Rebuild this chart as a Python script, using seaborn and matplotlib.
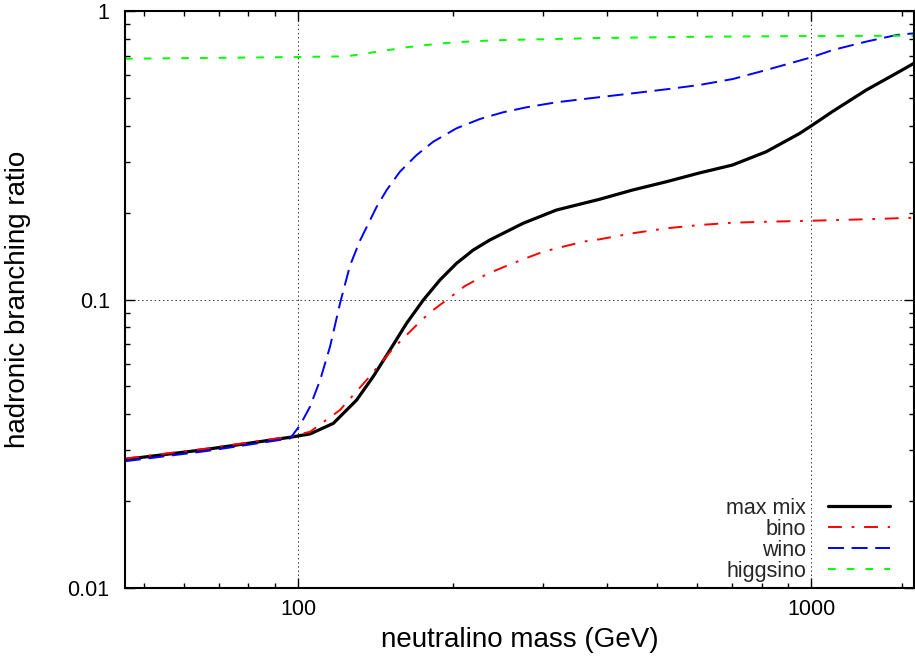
import matplotlib
matplotlib.use("Agg")
import matplotlib.pyplot as plt
import seaborn as sns
import pandas as pd
from matplotlib.ticker import FixedLocator, NullFormatter

# ---- data ----
mass_maxmix = [46, 66, 96.5, 105.5, 117.1, 130, 140, 151, 162.7, 175.4, 189, 203.6,
               219.4, 236.4, 274.4, 318.6, 387, 448, 522, 605, 702, 817, 948,
               1000, 1099, 1279, 1483, 1585]
br_maxmix = [0.0279, 0.0302, 0.0333, 0.0342, 0.0372, 0.0448, 0.0540, 0.0668, 0.0827,
             0.0996, 0.1169, 0.1335, 0.1484, 0.1608, 0.1837, 0.2042, 0.2226,
             0.2395, 0.256, 0.2745, 0.2925, 0.3253, 0.376, 0.400, 0.448, 0.532,
             0.616, 0.659]

mass_bino = [46, 66, 96.5, 105.5, 120.7, 136, 153.2, 174.1, 183.4, 200.5, 211.3, 232.9,
             250.8, 274.4, 300.1, 328.2, 358.9, 387, 449, 522, 605, 703, 817, 1000,
             1277, 1586]
br_bino = [0.0281, 0.0304, 0.0335, 0.0348, 0.0414, 0.0526, 0.0677, 0.0849, 0.0920,
           0.1036, 0.1113, 0.1223, 0.1293, 0.1378, 0.1464, 0.1524, 0.1586, 0.1617,
           0.1697, 0.1765, 0.1812, 0.1846, 0.1860, 0.1875, 0.1897, 0.1921]

mass_wino = [46, 66, 96.5, 100.9, 105.5, 110.4, 115.4, 120.7, 126.2, 132, 142.3, 148.8,
             157.9, 170.2, 183.4, 203.6, 226, 250.8, 278.6, 318.6, 369.9, 449, 522,
             605, 703, 817, 1000, 1101, 1277, 1465, 1586]
br_wino = [0.0275, 0.0298, 0.0330, 0.0367, 0.0425, 0.0526, 0.0686, 0.0970, 0.1310,
           0.1600, 0.2098, 0.2396, 0.2773, 0.3168, 0.3524, 0.3922, 0.4222, 0.4455,
           0.4637, 0.4826, 0.4981, 0.5185, 0.5354, 0.5541, 0.5810, 0.6245, 0.6911,
           0.7324, 0.7826, 0.8257, 0.8369]

mass_higgsino = [46, 64.5, 100, 124.4, 136, 148.8, 162.7, 178, 194.7, 212.9, 239.9,
                 387, 605, 1000, 1586]
br_higgsino = [0.6833, 0.6871, 0.6927, 0.6966, 0.7134, 0.7307, 0.7484, 0.7623, 0.7746,
               0.7827, 0.7914, 0.806, 0.8143, 0.819, 0.821]

series_names = ["max mix", "bino", "wino", "higgsino"]
x_ticks = [100, 1000]
x_ticklabels = ["100", "1000"]
y_ticks = [0.01, 0.1, 1]
y_ticklabels = ["0.01", "0.1", "1"]

# ---- style ----
sns.set_theme(style="white")
plt.rcParams["font.family"] = ["Liberation Sans", "DejaVu Sans"]
plt.rcParams["lines.scale_dashes"] = False

fig = plt.figure(figsize=(9.15, 6.63), dpi=100)
ax = fig.add_axes([125 / 915, 75 / 663, 789 / 915, 577 / 663])

styles = [
    dict(color="black", linewidth=2.3, dashes=(None, None)),
    dict(color="#ff0000", linewidth=1.4, dashes=(10, 7, 2, 7)),
    dict(color="#0000ff", linewidth=1.4, dashes=(11.5, 5.5)),
    dict(color="#00ff00", linewidth=1.4, dashes=(5.5, 8)),
]
data = [(mass_maxmix, br_maxmix), (mass_bino, br_bino),
        (mass_wino, br_wino), (mass_higgsino, br_higgsino)]

for name, (xs, ys), st in zip(series_names, data, styles):
    df = pd.DataFrame({"mass": xs, "br": ys})
    kw = dict(color=st["color"], linewidth=st["linewidth"])
    line_ax = sns.lineplot(data=df, x="mass", y="br", ax=ax, label=name, **kw)
    ln = line_ax.get_lines()[-1]
    ln.set_solid_joinstyle("round")
    if st["dashes"][0] is not None:
        ln.set_dashes(st["dashes"])

ax.set_xscale("log")
ax.set_yscale("log")
ax.set_xlim(46, 1585)
ax.set_ylim(0.01, 1)

ax.xaxis.set_major_locator(FixedLocator(x_ticks))
ax.set_xticklabels(x_ticklabels)
ax.yaxis.set_major_locator(FixedLocator(y_ticks))
ax.set_yticklabels(y_ticklabels)
ax.xaxis.set_minor_locator(FixedLocator([50, 60, 70, 80, 90, 200, 300, 400, 500, 600,
                                         700, 800, 900, 1500]))
ax.yaxis.set_minor_locator(FixedLocator([0.02, 0.03, 0.04, 0.05, 0.06, 0.07, 0.08, 0.09,
                                         0.2, 0.3, 0.4, 0.5, 0.6, 0.7, 0.8, 0.9]))
ax.xaxis.set_minor_formatter(NullFormatter())
ax.yaxis.set_minor_formatter(NullFormatter())

ax.tick_params(which="both", direction="in", top=True, right=True, bottom=True, left=True,
               color="black", labelsize=15.5, labelcolor="black")
ax.tick_params(which="major", length=7, width=1.0)
ax.tick_params(which="minor", length=3.5, width=1.0)
ax.tick_params(axis="x", which="major", pad=8)
ax.tick_params(axis="y", which="major", pad=11)

for sp in ax.spines.values():
    sp.set_color("black")
    sp.set_linewidth(1.5)

ax.grid(which="major", linestyle=(0, (1, 2)), color="#333333", linewidth=0.7)
ax.grid(which="minor", visible=False)

ax.set_xlabel("neutralino mass (GeV)", fontsize=20, color="black")
ax.set_ylabel("hadronic branching ratio", fontsize=20, color="black")
ax.xaxis.set_label_coords((520 - 125) / 789, (588 - 640) / 577)
ax.xaxis.label.set_va("center")
ax.yaxis.set_label_coords((18 - 125) / 789, 0.5)
ax.yaxis.label.set_va("center")

leg = ax.legend(loc="lower right", bbox_to_anchor=((890 - 125) / 789, (588 - 582) / 577),
                frameon=False, markerfirst=False, fontsize=15.5, handlelength=2.9,
                handletextpad=1.0, labelspacing=0.0, borderpad=0, borderaxespad=0)
for h, st in zip(leg.get_lines(), styles):
    if st["dashes"][0] is not None:
        h.set_dashes(st["dashes"])

fig.savefig("out.png", dpi=100)
